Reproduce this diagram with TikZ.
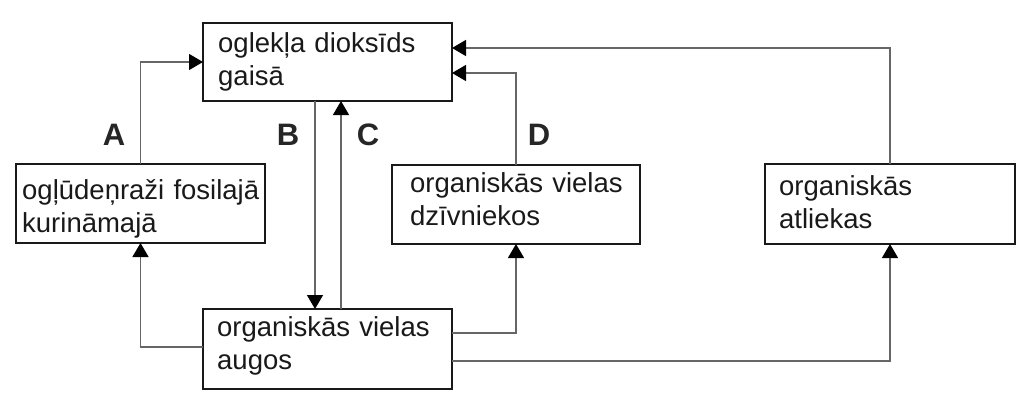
\documentclass[tikz,border=0pt]{standalone}
\usepackage{fontspec}
\setmainfont{Liberation Sans}
\usetikzlibrary{arrows.meta}
\begin{document}
\begin{tikzpicture}[x=1pt,y=-1pt,
  box/.style={draw=black!90, line width=2.4pt, inner sep=0pt, outer sep=0pt},
  txt/.style={anchor=base west, inner sep=0pt, text width=240pt, align=left,
    font=\fontsize{27.5}{33}\selectfont, text=black!90},
  conn/.style={draw=black!60, line width=1.4pt, -{Triangle[length=14pt,width=16pt,fill=black,color=black]}},
  lbl/.style={font=\fontsize{31}{33}\selectfont\bfseries, text=black!85, inner sep=0pt}]
\useasboundingbox (0,0) rectangle (1029,402);
% boxes
\node[box, minimum width=249pt, minimum height=78pt] (top) at (327.5,62) {};
\node[box, minimum width=249pt, minimum height=79pt] (fossil) at (140.5,203.5) {};
\node[box, minimum width=248pt, minimum height=79pt] (animals) at (516,204.5) {};
\node[box, minimum width=250pt, minimum height=80pt] (remains) at (890,204) {};
\node[box, minimum width=249pt, minimum height=80pt] (plants) at (327.5,349) {};
% texts
\node[txt] (topT) at ([shift={(15,29)}]top.north west) {oglekļa dioksīds\\gaisā};
\node[txt] (fossilT) at ([shift={(6,35)}]fossil.north west) {ogļūdeņraži fosilajā\\kurināmajā};
\node[txt] (animalsT) at ([shift={(18,27)}]animals.north west) {organiskās vielas\\dzīvniekos};
\node[txt] (remainsT) at ([shift={(14,31)}]remains.north west) {organiskās\\atliekas};
\node[txt] (plantsT) at ([shift={(14,27)}]plants.north west) {organiskās vielas\\augos};
% connectors
\draw[conn] (fossil.north) |- (top.west);
\draw[conn] ([xshift=-12.5pt]top.south) -- ([xshift=-12.5pt]plants.north);
\draw[conn] ([xshift=13.5pt]plants.north) -- ([xshift=13.5pt]top.south);
\draw[conn] (animals.north) |- ([yshift=-11pt]top.east);
\draw[conn] (remains.north) |- ([yshift=14pt]top.east);
\draw[conn] ([yshift=2pt]plants.west) -| (fossil.south);
\draw[conn] ([yshift=16pt]plants.east) -| (animals.south);
\draw[conn] ([yshift=-12pt]plants.east) -| (remains.south);
% labels
\node[lbl] (lA) at (114,135) {A};
\node[lbl] (lB) at (288,135) {B};
\node[lbl] (lC) at (368,135) {C};
\node[lbl] (lD) at (539,135) {D};
\end{tikzpicture}
\end{document}
